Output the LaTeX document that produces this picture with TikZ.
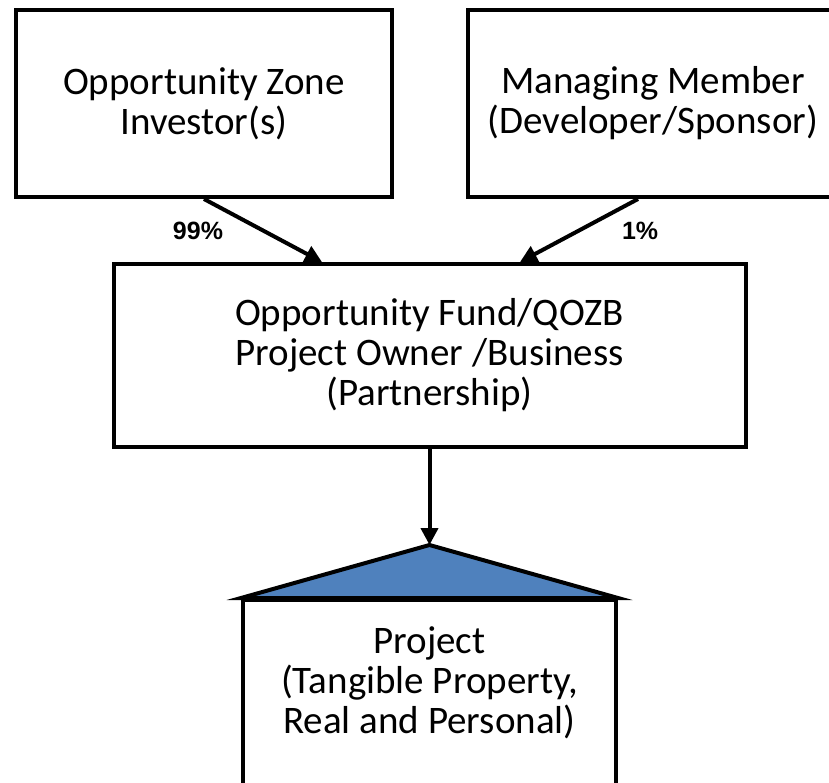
\documentclass[tikz,border=0pt]{standalone}
\usepackage{fontspec}
\setmainfont{Carlito}
\newfontfamily\pctfont{Liberation Sans}
\usetikzlibrary{calc, positioning}
\usetikzlibrary{arrows.meta}

\definecolor{roofblue}{RGB}{79,129,189}

\tikzset{
  boxtext/.style={align=center, inner sep=0pt, font=\fontsize{39}{40}\selectfont},
  box/.style={boxtext, draw, line width=4pt, rectangle},
  link/.style={line width=4pt, -{Triangle[length=17pt, width=17pt]}},
  pct/.style={inner sep=0pt, font=\pctfont\bfseries\fontsize{25}{25}\selectfont},
}

\begin{document}
\begin{tikzpicture}[x=1pt, y=-1pt]
\def\W{829}
\def\H{783}
\def\cx{429.5}

\useasboundingbox (0,0) rectangle (\W,\H);
\fill[white] (0,0) rectangle (\W,\H);
\clip (0,0) rectangle (\W,\H);

% owners on top
\node[box, minimum width=376pt, minimum height=187pt] (investor) at (204,103.5)
  {Opportunity Zone\\Investor(s)};
\node[box, minimum width=370pt, minimum height=187pt] (manager) at (653,103.5)
  {Managing Member\\(Developer/Sponsor)};

% the fund
\node[box, minimum width=632pt, minimum height=183pt] (fund) at (\cx,355.5)
  {Opportunity Fund/QOZB\\Project Owner /Business\\(Partnership)};

% project with its roof
\coordinate (apex) at (\cx,545);
\node[box, minimum width=373pt, minimum height=240pt, anchor=north] (projbox) at (\cx,598) {};
\filldraw[fill=roofblue, line width=4pt, line join=miter]
  (projbox.north west) -- (apex) -- (projbox.north east) -- cycle;
\node[boxtext] (project) at (\cx,683)
  {Project\\(Tangible Property,\\Real and Personal)};

\draw[link] (investor.south) -- ([xshift=-107.5pt]fund.north)
  node[pct, midway, left=38pt] {99\%};
\draw[link] ([xshift=-15pt]manager.south) -- ([xshift=90.5pt]fund.north)
  node[pct, midway, right=41pt] {1\%};
\draw[link] (fund.south) -- (apex);

\end{tikzpicture}
\end{document}
